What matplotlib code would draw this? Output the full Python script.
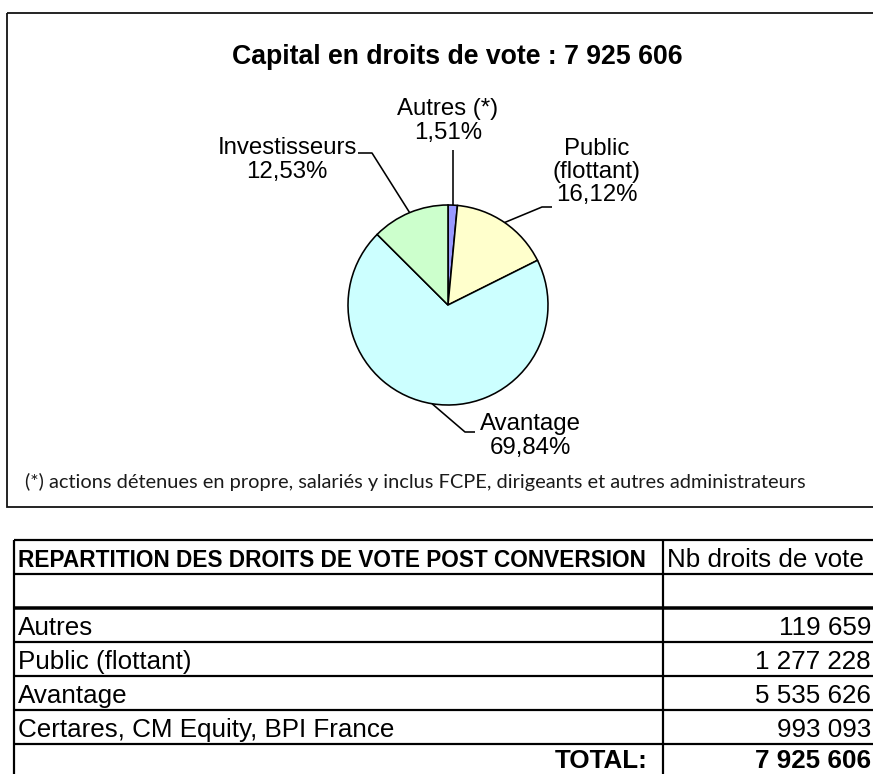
import matplotlib
matplotlib.use("Agg")
import numpy as np
import matplotlib.pyplot as plt
from matplotlib.patches import Rectangle

# ---- data -------------------------------------------------------------
pie_labels = ["Autres (*)", "Public\n(flottant)", "Avantage", "Investisseurs"]
pie_pct = [1.51, 16.12, 69.84, 12.53]
pie_colors = ["#9999FF", "#FFFFCC", "#CCFFFF", "#CCFFCC"]

title = "Capital en droits de vote : 7 925 606"
footnote = ("(*) actions détenues en propre, salariés y inclus FCPE, "
            "dirigeants et autres administrateurs")

table_header = "REPARTITION DES DROITS DE VOTE POST CONVERSION"
table_col2 = "Nb droits de vote"
table_rows = ["Autres", "Public (flottant)", "Avantage",
              "Certares, CM Equity, BPI France"]
table_values = [119659, 1277228, 5535626, 993093]
total_label = "TOTAL:"
total_value = 7925606

# ---- helpers ----------------------------------------------------------
SANS = ["Liberation Sans", "DejaVu Sans"]
NOTE = ["Lato", "Liberation Sans", "DejaVu Sans"]


def fr_pct(v):
    return f"{v:.2f}".replace(".", ",") + "%"


def fr_int(n):
    return f"{n:,}".replace(",", " ")


W, H = 873, 774
fig = plt.figure(figsize=(W / 100, H / 100), dpi=100)
fig.patch.set_facecolor("white")

ax = fig.add_axes([0, 0, 1, 1])
ax.set_xlim(0, W)
ax.set_ylim(H, 0)
ax.axis("off")

renderer = fig.canvas.get_renderer()


def fit(txt, width_px):
    bb = txt.get_window_extent(renderer)
    txt.set_fontsize(txt.get_fontsize() * width_px / bb.width)


PX = 0.72  # points per pixel at 100 dpi

# ---- chart frame ------------------------------------------------------
ax.add_patch(Rectangle((7, 13), 880, 494, fill=False, lw=1.8 * PX,
                       edgecolor="#111111", clip_on=False))

t = ax.text(457, 57, title, ha="center", va="center", fontsize=19,
            fontweight="bold", family=SANS)
fit(t, 452)

# ---- pie --------------------------------------------------------------
cx, cy, R = 448, 305, 100
pax = fig.add_axes([(cx - R) / W, (H - cy - R) / H, 2 * R / W, 2 * R / H])
wedges, _ = pax.pie(pie_pct, colors=pie_colors, startangle=90,
                    counterclock=False, radius=1.0,
                    wedgeprops=dict(edgecolor="black", linewidth=1.6 * PX))
pax.set_xlim(-1, 1)
pax.set_ylim(-1, 1)
pax.set_aspect("equal")
pax.axis("off")

to_canvas = pax.transData + ax.transData.inverted()

# label centre and leader route (elbow, end) in canvas pixels
label_pos = [(448, 121), (597, 172), (530, 436), (287, 160)]
leader_route = [None, [(542, 207), (552, 207)], [(465, 432), (475, 432)],
                [(372, 153), (358, 153)]]

for w, name, pct, pos, route in zip(wedges, pie_labels, pie_pct,
                                    label_pos, leader_route):
    mid = np.deg2rad((w.theta1 + w.theta2) / 2)
    ax_x, ax_y = to_canvas.transform((np.cos(mid), np.sin(mid)))
    if route is None:
        xs, ys = [ax_x, ax_x], [ax_y, 150]
    else:
        xs = [ax_x] + [p[0] for p in route]
        ys = [ax_y] + [p[1] for p in route]
    ax.plot(xs, ys, color="black", lw=1.6 * PX, solid_capstyle="butt",
            zorder=1)
    ax.text(pos[0], pos[1], f"{name}\n{fr_pct(pct)}", ha="center",
            va="center", fontsize=24 * PX, family=SANS, linespacing=1.08)

n = ax.text(25, 482, footnote, ha="left", va="center", fontsize=14,
            family=NOTE, color="#1a1a1a")
fit(n, 785)

# ---- table ------------------------------------------------------------
x_left, x_mid, x_right = 14, 663, 880
row_h = 34
y0 = 540
n_rows = 3 + len(table_rows)
edges = [y0 + i * row_h for i in range(n_rows + 1)]

for i, y in enumerate(edges):
    lw = 3.5 if i == 2 else 2.2
    ax.plot([x_left, x_right], [y, y], color="black", lw=lw * PX,
            solid_capstyle="butt", clip_on=False)
for x in (x_left, x_mid, x_right):
    ax.plot([x, x], [edges[0], edges[-1]], color="black", lw=2.2 * PX,
            solid_capstyle="butt", clip_on=False)

BODY = 26 * PX
base = [e - 7 for e in edges[1:]]
base[-1] = edges[-2] + 24  # keep the total row inside the sheet
x_num = 871

h = ax.text(18, base[0], table_header, ha="left", va="baseline",
            fontsize=16, fontweight="bold", family=SANS)
fit(h, 630)
ax.text(667, base[0], table_col2, ha="left", va="baseline",
        fontsize=BODY, family=SANS)

for k, (name, val) in enumerate(zip(table_rows, table_values)):
    yb = base[2 + k]
    ax.text(18, yb, name, ha="left", va="baseline", fontsize=BODY,
            family=SANS)
    ax.text(x_num, yb, fr_int(val), ha="right", va="baseline",
            fontsize=BODY, family=SANS)

ax.text(648, base[-1], total_label, ha="right", va="baseline",
        fontsize=BODY, fontweight="bold", family=SANS)
ax.text(x_num, base[-1], fr_int(total_value), ha="right", va="baseline",
        fontsize=BODY, fontweight="bold", family=SANS)

fig.savefig("out.png", dpi=100, facecolor="white")
